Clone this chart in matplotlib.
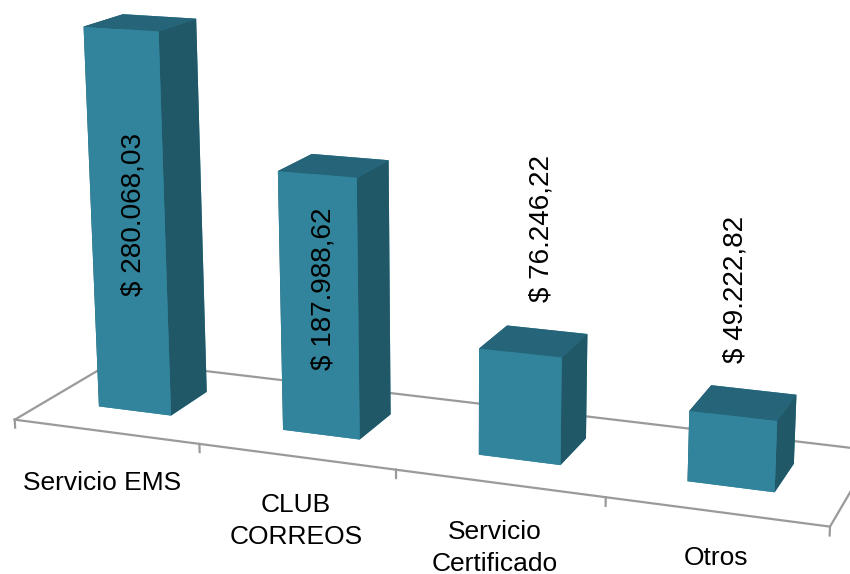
import numpy as np
import matplotlib
matplotlib.use("Agg")
import matplotlib.pyplot as plt

categories = ["Servicio EMS", "CLUB\nCORREOS", "Servicio\nCertificado", "Otros"]
values = [280068.03, 187988.62, 76246.22, 49222.82]
value_labels = ["$ 280.068,03", "$ 187.988,62", "$ 76.246,22", "$ 49.222,82"]

plt.rcParams["font.family"] = ["Liberation Sans", "DejaVu Sans"]

FRONT = "#31849b"
TOP = "#266479"
SIDE = "#215868"
GRID = "#9a9a9a"

fig = plt.figure(figsize=(8.5, 5.74), dpi=100)
# axes is much bigger than the figure, mplot3d clips to its own box otherwise
ax = fig.add_axes([-0.3 - 5.4 / 850, -0.5 + 43.2 / 574, 1.6, 2.0], projection="3d", computed_zorder=False)
ax.set_proj_type("persp", focal_length=0.377)
ax.view_init(elev=14.374, azim=-69.064, roll=0.161)
ax.set_box_aspect((4, 1.019, 2.035), zoom=0.8345)
ax.set_axis_off()
ax.set_xlim(0, 4)
ax.set_ylim(0, 1)
ax.set_zlim(0, 300000)

n = len(values)
# floor outline and ticks
ax.plot([0, n, n, 0, 0], [0, 0, 1, 1, 0], [0] * 5, color=GRID, lw=1.6, zorder=1)
for i in range(n + 1):
    ax.plot([i, i], [0, 0], [0, -6000], color=GRID, lw=1.6, zorder=1)

for i, v in enumerate(values):
    # faces: bottom, top, front, back, left, right
    ax.bar3d(i + 0.287, 0.315, 0, 0.399, 0.385, v, shade=False, zorder=2 + i,
             color=[FRONT, TOP, FRONT, FRONT, SIDE, SIDE])

label_xy = [(133, 214), (323, 289), (542, 229), (735, 289)]
for (px, py), s in zip(label_xy, value_labels):
    fig.text(px / 850, 1 - py / 574, s, rotation=90, ha="center", va="center",
             fontsize=20.1, color="black")

cat_xy = [(102, 483), (296, 521), (495, 548), (716, 558)]
for (px, py), s in zip(cat_xy, categories):
    fig.text(px / 850, 1 - py / 574, s, ha="center", va="center", fontsize=19,
             color="black", linespacing=1.38)

fig.savefig("out.png", dpi=100)
